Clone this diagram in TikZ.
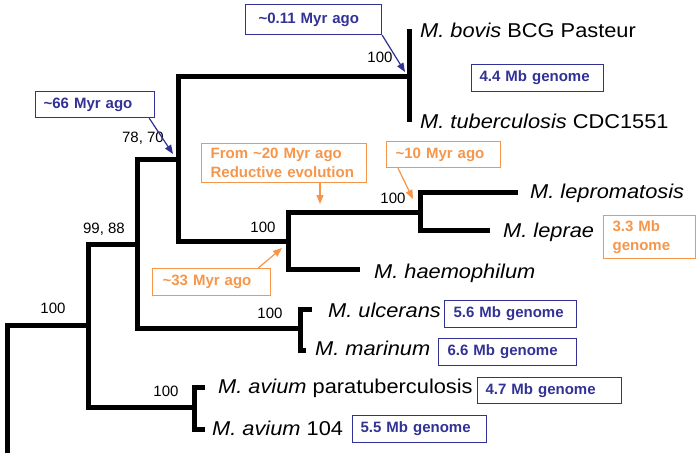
\documentclass[tikz,border=0pt]{standalone}
\usepackage{fontspec}
\setmainfont{Liberation Sans}
\newfontfamily\spfont[FakeStretch=1.09]{Liberation Sans}
\usetikzlibrary{arrows.meta}
\definecolor{myblue}{RGB}{50,50,150}
\definecolor{myorange}{RGB}{245,150,75}
\tikzset{
  tree/.style={line width=5pt, line join=miter, line cap=butt},
  sp/.style={anchor=base west, inner sep=0pt, font=\spfont\fontsize{20}{22}\selectfont},
  sup/.style={inner sep=0pt, font=\fontsize{15}{17}\selectfont},
  gbox/.style={draw, line width=1.2pt, anchor=north west, inner xsep=9pt, inner ysep=0pt,
    align=left, font=\bfseries\fontsize{15}{19}\selectfont},
  bbox/.style={gbox, draw=myblue, text=myblue},
  obox/.style={gbox, draw=myorange, text=myorange},
  arrB/.style={draw=myblue, line width=1.2pt, -{Triangle[length=9pt,width=7pt]}, fill=myblue},
  arrO/.style={draw=myorange, line width=1.2pt, -{Triangle[length=9pt,width=7pt]}, fill=myorange},
}
\begin{document}
\begin{tikzpicture}[x=1pt,y=-1pt]
\useasboundingbox (0,0) rectangle (700,458);
% tree node coordinates
\coordinate (r0) at (7,453);
\coordinate (n1) at (88,325);
% tree
\draw[tree] (r0) -- (7,325) -- (n1);
\draw[tree] (137,244) -- (88,244) -- (88,407) -- (194,407);
\draw[tree] (178,159) -- (137,159) -- (137,328) -- (300,328);
\draw[tree] (409,76) -- (178,76) -- (178,241) -- (288,241);
\draw[tree] (409,29) -- (409,122);
\draw[tree] (420,212) -- (288,212) -- (288,269) -- (360,269);
\draw[tree] (518,192) -- (420,192) -- (420,230) -- (490,230);
\draw[tree] (312,309) -- (300,309) -- (300,350) -- (306,350);
\draw[tree] (205,387) -- (194,387) -- (194,429) -- (205,429);
% support values
\node[sup] (s1) at (53,308) {100};
\node[sup] (s2) at (104,229) {99, 88};
\node[sup] (s3) at (143,138) {78, 70};
\node[sup] (s4) at (380,57) {100};
\node[sup] (s5) at (263,227) {100};
\node[sup] (s6) at (393,198) {100};
\node[sup] (s7) at (270,313) {100};
\node[sup] (s8) at (166,391) {100};
% species
\node[sp] (bovis) at (420,37) {\itshape M. bovis\upshape{} BCG Pasteur};
\node[sp] (tb) at (420,128) {\itshape M. tuberculosis\upshape{} CDC1551};
\node[sp] (lepro) at (530,198) {\itshape M. lepromatosis};
\node[sp] (leprae) at (503,237) {\itshape M. leprae};
\node[sp] (haemo) at (374,278) {\itshape M. haemophilum};
\node[sp] (ulc) at (328,317) {\itshape M. ulcerans};
\node[sp] (mar) at (315,355) {\itshape M. marinum};
\node[sp] (avp) at (218,393) {\itshape M. avium\upshape{} paratuberculosis};
\node[sp] (av104) at (212,435) {\itshape M. avium\upshape{} 104};
% boxes
\node[bbox, minimum height=30pt, inner xsep=13pt, text width=110pt] (b011) at (245,4) {\textasciitilde0.11 Myr ago};
\node[bbox, minimum height=26pt, text width=103pt, inner xsep=8pt] (b66) at (35,91) {\textasciitilde66 Myr ago};
\node[bbox, minimum height=27pt, text width=116pt, inner xsep=8pt] (g44) at (471,64) {4.4 Mb genome};
\node[obox, minimum height=39pt, text width=147pt] (b20) at (201,143) {From \textasciitilde20 Myr ago\\Reductive evolution};
\node[obox, minimum height=26pt, text width=96pt] (b10) at (386,141) {\textasciitilde10 Myr ago};
\node[obox, minimum height=27pt, text width=98pt, inner xsep=10pt] (b33) at (152,268) {\textasciitilde33 Myr ago};
\node[obox, minimum height=43pt, text width=74pt] (g33) at (603,215) {3.3 Mb\\genome};
\node[bbox, minimum height=27pt, text width=114pt] (g56) at (444,300) {5.6 Mb genome};
\node[bbox, minimum height=27pt, text width=120pt] (g66) at (438,338) {6.6 Mb genome};
\node[bbox, minimum height=26pt, text width=128pt, inner xsep=8pt] (g47) at (477,377) {4.7 Mb genome};
\node[bbox, minimum height=27pt, text width=118pt, inner xsep=8pt] (g55) at (352,415) {5.5 Mb genome};
% arrow targets
\coordinate (t011) at (405,72);
\coordinate (t66) at (173,154);
\coordinate (t20) at (320,204);
\coordinate (t10) at (413,199);
\coordinate (t33) at (282,248);
\draw[arrB] (b011.south east) -- (t011);
\draw[arrB] ([xshift=-6pt]b66.south east) -- (t66);
\draw[arrO] (b20.south -| t20) -- (t20);
\draw[arrO] ([xshift=12pt]b10.south west) -- (t10);
\draw[arrO] ([xshift=-13pt]b33.north east) -- (t33);
\end{tikzpicture}
\end{document}
